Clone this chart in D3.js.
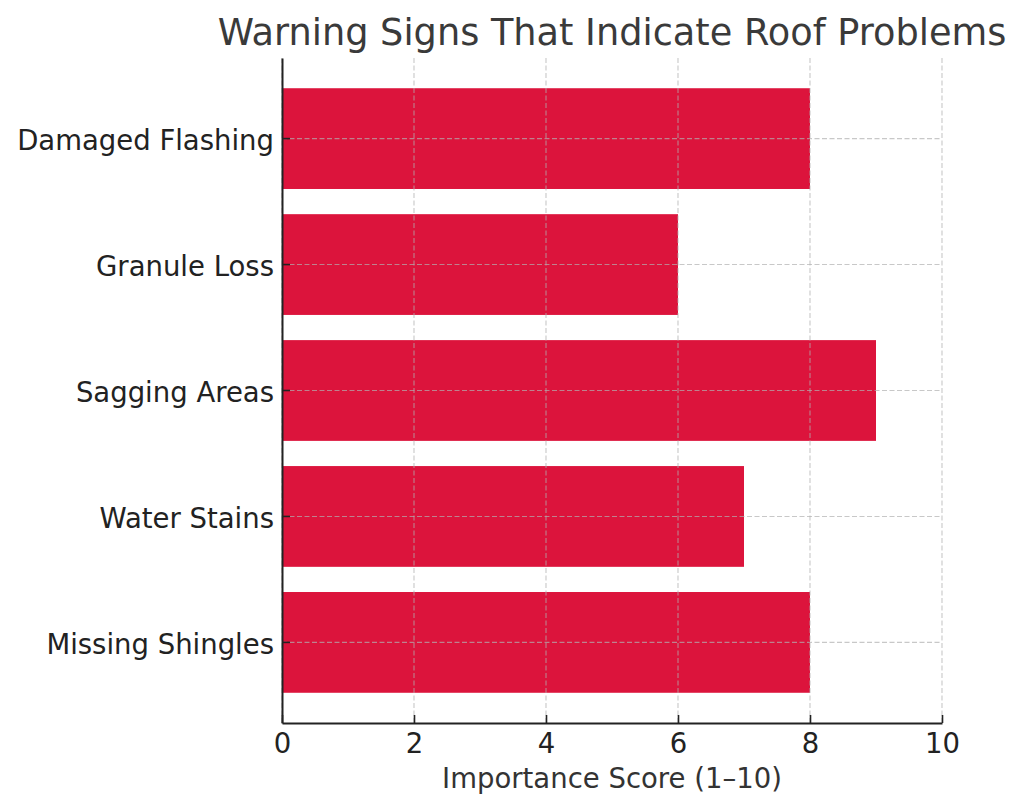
<!DOCTYPE html>
<html>
<head>
<meta charset="utf-8">
<script src="https://cdn.jsdelivr.net/npm/d3@7/dist/d3.min.js"></script>
<style>
	body { margin: 0; background: #fff; }
	text { font-family: "DejaVu Sans", sans-serif; }
</style>
</head>
<body>
<svg id="chart" width="1024" height="811"></svg>
<script>
var categories = ['Missing Shingles', 'Water Stains', 'Sagging Areas', 'Granule Loss', 'Damaged Flashing'];
var scores = [8, 7, 9, 6, 8];
var xTicks = [0, 2, 4, 6, 8, 10];

var margin = {top: 58, left: 282, right: 82, bottom: 88};
var width = 1024 - margin.left - margin.right,
	height = 811 - margin.top - margin.bottom;

var svg = d3.select('#chart');
var g = svg.append('g').attr('transform', 'translate(' + margin.left + ',' + margin.top + ')');

var x = d3.scaleLinear().domain([0, 10]).range([0, width]);
var y = d3.scaleBand().domain(categories.slice().reverse()).range([0, height]).paddingInner(0.2).paddingOuter(0.24);

// bars go under the grid
g.selectAll('.bar')
	.data(categories)
	.enter().append('rect')
	.attr('class', 'bar')
	.attr('x', 0)
	.attr('y', function(d){ return y(d); })
	.attr('width', function(d, i){ return x(scores[i]); })
	.attr('height', y.bandwidth())
	.attr('fill', '#dc143c');

g.selectAll('.vgrid')
	.data(xTicks)
	.enter().append('line')
	.attr('class', 'vgrid')
	.attr('x1', function(d){ return x(d); })
	.attr('x2', function(d){ return x(d); })
	.attr('y1', 0)
	.attr('y2', height);

g.selectAll('.hgrid')
	.data(categories)
	.enter().append('line')
	.attr('class', 'hgrid')
	.attr('x1', 0)
	.attr('x2', width)
	.attr('y1', function(d){ return y(d) + y.bandwidth() / 2; })
	.attr('y2', function(d){ return y(d) + y.bandwidth() / 2; });

g.selectAll('.vgrid,.hgrid')
	.attr('stroke', '#b0b0b0')
	.attr('stroke-opacity', 0.7)
	.attr('stroke-width', 1.1)
	.attr('stroke-dasharray', '5,2.5');

// ticks point into the plot, so the padding has to clear them
var xAxis = g.append('g')
	.attr('transform', 'translate(0,' + height + ')')
	.call(d3.axisBottom(x).tickValues(xTicks).tickSizeInner(-8).tickSizeOuter(0).tickPadding(10).tickFormat(d3.format('d')));
var yAxis = g.append('g')
	.call(d3.axisLeft(y).tickSizeInner(-8).tickSizeOuter(0).tickPadding(8));

[xAxis, yAxis].forEach(function(a){
	a.selectAll('text').attr('fill', '#222').style('font-size', '27.5px').style('font-family', '"DejaVu Sans", sans-serif');
	a.selectAll('line').attr('stroke', '#222').attr('stroke-width', 1.6);
	a.select('.domain').attr('stroke', '#222').attr('stroke-width', 2);
});
yAxis.selectAll('text').attr('dy', '0.41em');

svg.append('text')
	.attr('x', 612)
	.attr('y', 45)
	.attr('text-anchor', 'middle')
	.attr('fill', '#3a3a3a')
	.style('font-size', '36.7px')
	.text('Warning Signs That Indicate Roof Problems');

svg.append('text')
	.attr('x', 612)
	.attr('y', 788)
	.attr('text-anchor', 'middle')
	.attr('fill', '#333')
	.style('font-size', '27.5px')
	.text('Importance Score (1–10)');
</script>
</body>
</html>
